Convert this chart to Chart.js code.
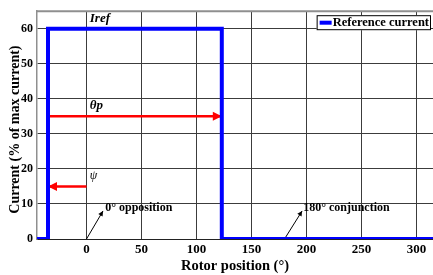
<!DOCTYPE html>
<html><head><meta charset="utf-8">
<script src="https://cdn.jsdelivr.net/npm/chart.js@4/dist/chart.umd.min.js"></script>
<style>html,body{margin:0;padding:0;background:#fff}#wrap{width:433px;height:275px;position:relative}</style>
</head><body><div id="wrap"><canvas id="c" width="433" height="275"></canvas></div>
<script>
// ---- data ----
const seriesName = 'Reference current';
const rotorPos = [-45, -35, -35, 123, 123, 315];
const currentPct = [0, 0, 60, 60, 0, 0];
const xTicks = [0, 50, 100, 150, 200, 250, 300];
const yTicks = [0, 10, 20, 30, 40, 50, 60];
const xRange = [-45, 315];
const yRange = [0, 65];
const thetaPArrowX = [-35, 123], thetaPArrowY = [35, 35];
const psiArrowX = [0, -35], psiArrowY = [15, 15];
const oppArrowX = [0, 15], oppArrowY = [0, 8];
const conjArrowX = [180, 196], conjArrowY = [0, 8];
const noteTexts = ['Iref', 'θp', 'ψ', '0° opposition', '180° conjunction'];
const noteX = [3, 3, 3, 17, 197];
const noteY = [63, 38, 18, 9, 8.8];
const xTitle = 'Rotor position (°)';
const yTitle = 'Current (% of max current)';

const SERIF = '"Liberation Serif", "Times New Roman", serif';
const pts = (xs, ys) => xs.map((x, i) => ({x, y: ys[i]}));
const noteFonts = ['italic bold 13px ' + SERIF, 'italic bold 13px ' + SERIF, 'italic 12px ' + SERIF, 'bold 12px ' + SERIF, 'bold 12px ' + SERIF];

const arrowPlugin = {
  id: 'arrowheads',
  beforeDatasetsDraw(chart) {
    const ctx = chart.ctx, xs = chart.scales.x, ys = chart.scales.y;
    chart.data.datasets.forEach(ds => {
      if (!ds.arrowSize) return;
      const d = ds.data, n = d.length;
      const x1 = xs.getPixelForValue(d[n-2].x), y1 = ys.getPixelForValue(d[n-2].y);
      const x2 = xs.getPixelForValue(d[n-1].x), y2 = ys.getPixelForValue(d[n-1].y);
      const a = Math.atan2(y2 - y1, x2 - x1), L = ds.arrowSize, W = ds.arrowSize * 0.5;
      ctx.save();
      ctx.fillStyle = ds.borderColor;
      ctx.beginPath();
      ctx.moveTo(x2, y2);
      ctx.lineTo(x2 - L*Math.cos(a) + W*Math.sin(a), y2 - L*Math.sin(a) - W*Math.cos(a));
      ctx.lineTo(x2 - L*Math.cos(a) - W*Math.sin(a), y2 - L*Math.sin(a) + W*Math.cos(a));
      ctx.closePath();
      ctx.fill();
      ctx.restore();
    });
    // top frame
    const ca = chart.chartArea;
    ctx.save();
    ctx.strokeStyle = '#8f8f8f'; ctx.lineWidth = 2;
    ctx.beginPath(); ctx.moveTo(ca.left - 1, ca.top); ctx.lineTo(ca.right, ca.top); ctx.stroke();
    ctx.restore();
  },
  afterDatasetsDraw(chart) {
    const ctx = chart.ctx, xs = chart.scales.x, ys = chart.scales.y;
    ctx.save();
    ctx.fillStyle = '#000';
    ctx.textBaseline = 'middle'; ctx.textAlign = 'left';
    noteTexts.forEach((t, i) => {
      ctx.font = noteFonts[i];
      ctx.fillText(t, xs.getPixelForValue(noteX[i]), ys.getPixelForValue(noteY[i]));
    });
    // legend
    const ca = chart.chartArea;
    const ds = chart.data.datasets[0];
    ctx.font = 'bold 12.5px ' + SERIF;
    const tw = ctx.measureText(ds.label).width;
    const h = 15, sample = 12;
    const w = 3 + sample + 1 + tw + 2;
    const bx = ca.right - 2 - w, by = ca.top + 4;
    ctx.fillStyle = '#fff';
    ctx.fillRect(bx, by, w, h);
    ctx.strokeStyle = '#000'; ctx.lineWidth = 1;
    ctx.strokeRect(bx + 0.5, by + 0.5, w - 1, h - 1);
    ctx.strokeStyle = ds.borderColor; ctx.lineWidth = 4;
    ctx.beginPath(); ctx.moveTo(bx + 3, by + h/2); ctx.lineTo(bx + 3 + sample, by + h/2); ctx.stroke();
    ctx.fillStyle = '#000';
    ctx.fillText(ds.label, bx + 3 + sample + 1, by + h/2 + 0.5);
    // y axis title
    ctx.font = 'bold 14px ' + SERIF;
    ctx.textAlign = 'center';
    ctx.textBaseline = 'alphabetic';
    ctx.translate(19, (ca.top + ca.bottom) / 2 + 4.5);
    ctx.rotate(-Math.PI / 2);
    ctx.fillText(yTitle, 0, 0);
    ctx.restore();
  }
};

new Chart(document.getElementById('c'), {
  type: 'line',
  data: {
    datasets: [
      {label: seriesName, data: pts(rotorPos, currentPct), borderColor: '#0000ff', borderWidth: 4, pointRadius: 0, tension: 0, order: 0},
      {label: 'θp', data: pts(thetaPArrowX, thetaPArrowY), borderColor: '#ff0000', borderWidth: 2.5, pointRadius: 0, order: 1, arrowSize: 9},
      {label: 'ψ', data: pts(psiArrowX, psiArrowY), borderColor: '#ff0000', borderWidth: 2.5, pointRadius: 0, order: 1, arrowSize: 9},
      {label: 'opp', data: pts(oppArrowX, oppArrowY), borderColor: '#000000', borderWidth: 1, pointRadius: 0, order: 1, arrowSize: 5},
      {label: 'conj', data: pts(conjArrowX, conjArrowY), borderColor: '#000000', borderWidth: 1, pointRadius: 0, order: 1, arrowSize: 5}
    ]
  },
  options: {
    responsive: false, animation: false,
    layout: {padding: {top: 5, left: 0, right: 0, bottom: 0}},
    plugins: {legend: {display: false}, tooltip: {enabled: false}},
    scales: {
      x: {
        type: 'linear', min: xRange[0], max: xRange[1],
        afterBuildTicks: s => { s.ticks = xTicks.map(v => ({value: v})); },
        afterFit: s => { s.height = 36; },
        grid: {color: '#3c3c3c', lineWidth: 1, drawTicks: false},
        border: {display: true, color: '#222', width: 1},
        ticks: {color: '#000', padding: 3, font: {family: SERIF, size: 13, weight: 'bold'}, maxRotation: 0, autoSkip: false},
        title: {display: true, text: xTitle, color: '#000', font: {family: SERIF, size: 14.5, weight: 'bold'}, padding: {top: 0, bottom: 0}}
      },
      y: {
        type: 'linear', min: yRange[0], max: yRange[1],
        afterBuildTicks: s => { s.ticks = yTicks.map(v => ({value: v})); },
        afterFit: s => { s.width = 37; },
        grid: {color: '#3c3c3c', lineWidth: 1, drawTicks: false},
        border: {display: true, color: '#8f8f8f', width: 1.5},
        ticks: {color: '#000', padding: 4, font: {family: SERIF, size: 12, weight: 'bold'}},
        title: {display: false}
      }
    }
  },
  plugins: [arrowPlugin]
});
</script>
</body></html>
